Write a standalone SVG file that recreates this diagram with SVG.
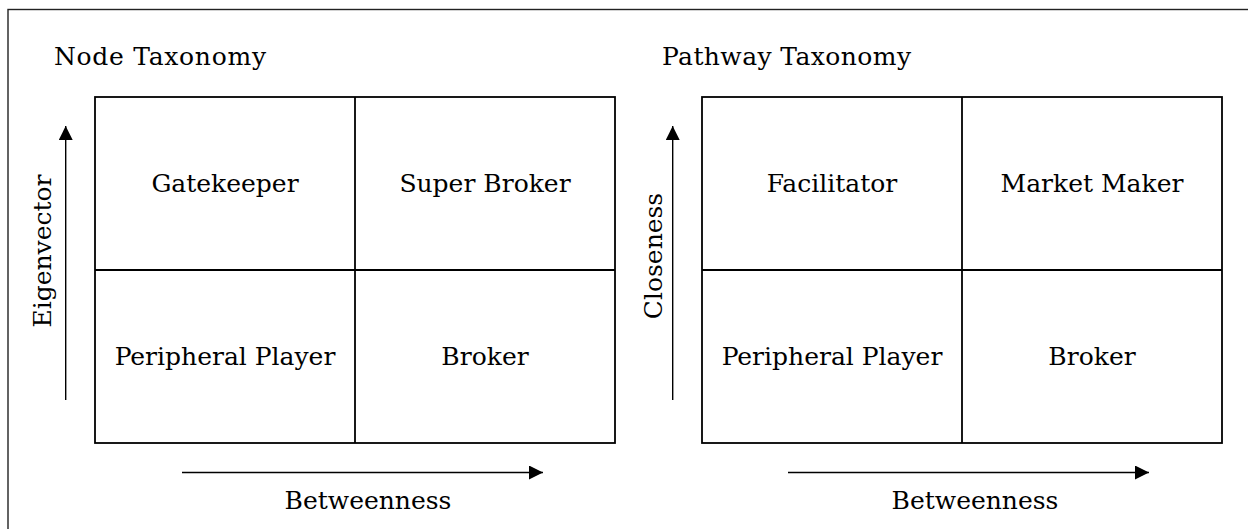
<svg xmlns="http://www.w3.org/2000/svg" width="1248" height="529" viewBox="0 0 1248 529">
<style>
.t{font-family:"DejaVu Serif","Liberation Serif",serif;font-size:25px;fill:#000}
.c{text-anchor:middle}
.g{fill:none;stroke:#000;stroke-width:1.8}
.a{stroke:#000;stroke-width:1.4;fill:none}
</style>
<defs>
<marker id="ah" viewBox="0 0 14 14" refX="14" refY="7" markerWidth="14" markerHeight="14" markerUnits="userSpaceOnUse" orient="auto">
<path d="M0,0 L14,7 L0,14 Z" fill="#000"/>
</marker>
</defs>
<rect x="8" y="9.5" width="1260" height="540" fill="#fff" stroke="#222" stroke-width="1.4"/>
<text class="t" x="54" y="65" textLength="212">Node Taxonomy</text>
<text class="t" x="662" y="65" textLength="249">Pathway Taxonomy</text>
<g id="node-grid">
<rect class="g" x="95" y="97" width="520" height="346"/>
<line class="g" x1="355" y1="97" x2="355" y2="443"/>
<line class="g" x1="95" y1="270" x2="615" y2="270"/>
</g>
<g id="gatekeeper"><text class="t c" x="225" y="192">Gatekeeper</text></g>
<g id="super-broker"><text class="t c" x="485" y="192">Super Broker</text></g>
<g id="peripheral-player-1"><text class="t c" x="225" y="365">Peripheral Player</text></g>
<g id="broker-1"><text class="t c" x="485" y="365">Broker</text></g>
<g id="pathway-grid">
<rect class="g" x="702" y="97" width="520" height="346"/>
<line class="g" x1="962" y1="97" x2="962" y2="443"/>
<line class="g" x1="702" y1="270" x2="1222" y2="270"/>
</g>
<g id="facilitator"><text class="t c" x="832" y="192">Facilitator</text></g>
<g id="market-maker"><text class="t c" x="1092" y="192">Market Maker</text></g>
<g id="peripheral-player-2"><text class="t c" x="832" y="365">Peripheral Player</text></g>
<g id="broker-2"><text class="t c" x="1092" y="365">Broker</text></g>
<g id="connectors">
<line class="a" x1="65.7" y1="400" x2="65.7" y2="126" marker-end="url(#ah)"/>
<line class="a" x1="182" y1="472.5" x2="543" y2="472.5" marker-end="url(#ah)"/>
<line class="a" x1="672.7" y1="400" x2="672.7" y2="126" marker-end="url(#ah)"/>
<line class="a" x1="788" y1="472.5" x2="1149" y2="472.5" marker-end="url(#ah)"/>
</g>
<text class="t c" x="368" y="509">Betweenness</text>
<text class="t c" x="975" y="509">Betweenness</text>
<text class="t c" transform="translate(51,251) rotate(-90)">Eigenvector</text>
<text class="t c" transform="translate(662,256) rotate(-90)">Closeness</text>
</svg>
